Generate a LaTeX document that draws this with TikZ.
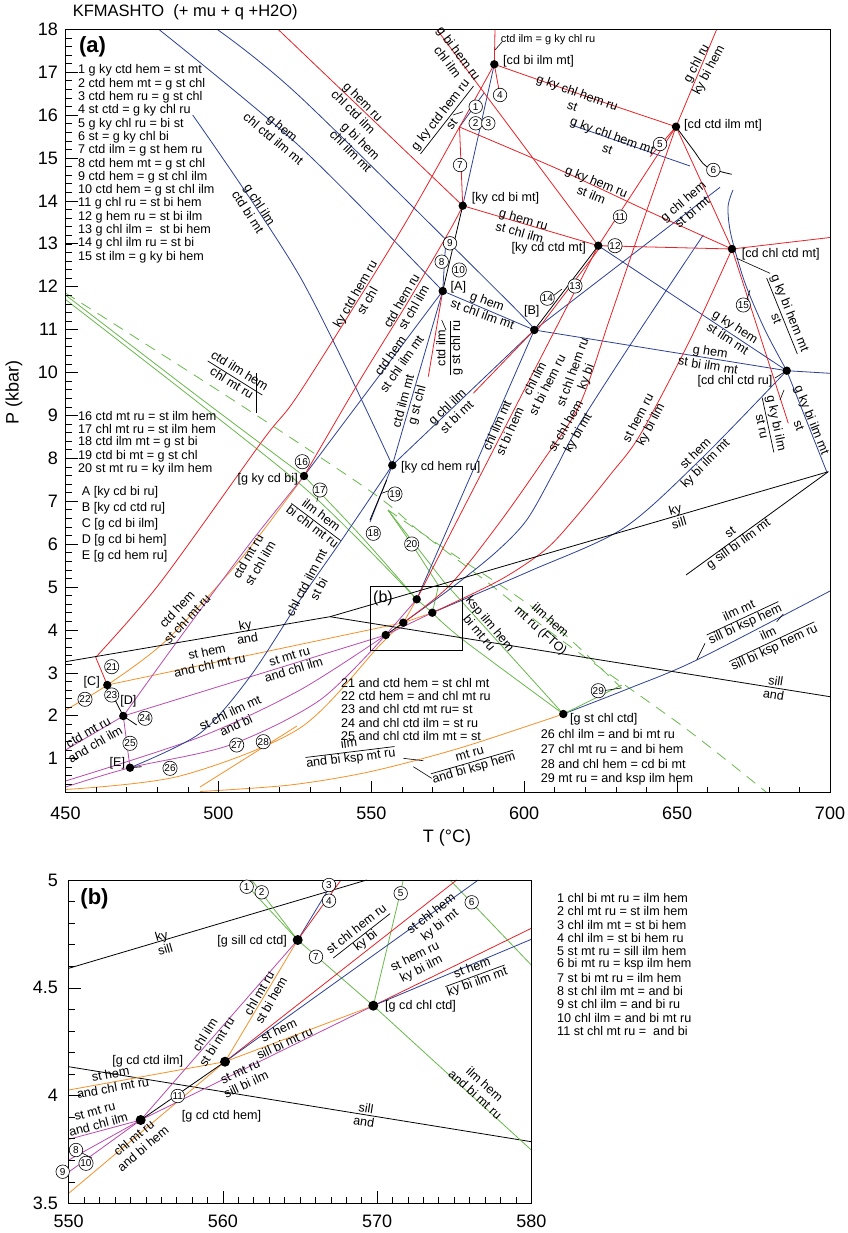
\documentclass[tikz,border=0pt]{standalone}
\usepackage{fontspec}
\setmainfont{Liberation Sans}
\usetikzlibrary{shapes.geometric}
\definecolor{cred}{RGB}{230,35,40}
\definecolor{cblue}{RGB}{45,65,150}
\definecolor{cgreen}{RGB}{105,185,75}
\definecolor{corange}{RGB}{245,145,40}
\definecolor{cpurple}{RGB}{185,75,175}
\newcommand{\frl}[2]{\begin{tabular}{@{}c@{}}#1\\\hline #2\end{tabular}}
\setlength{\arrayrulewidth}{0.7pt}
\tikzset{
 every node/.style={font=\fontsize{12.6}{14}\selectfont, inner sep=0pt},
 ln/.style={line width=0.8pt, line join=round},
 rl/.style={ln, draw=cred}, bl/.style={ln, draw=cblue}, gl/.style={ln, draw=cgreen},
 ol/.style={ln, draw=corange}, pl/.style={ln, draw=cpurple}, kl/.style={ln, draw=black},
 dl/.style={ln, draw=cgreen, dash pattern=on 11pt off 8pt},
 kt/.style={line width=0.6pt},
 two/.style={align=center},
 cn/.style={circle, draw, fill=white, line width=0.6pt, inner sep=0.4pt, minimum size=13.5pt, font=\fontsize{10}{10}\selectfont},
 ax/.style={line width=1pt},
 tk/.style={line width=0.6pt},
 big/.style={font=\fontsize{18}{20}\selectfont},
}
\begin{document}
\begin{tikzpicture}[x=1pt,y=-1pt]
\fill[white] (0,0) rectangle (847,1233);
\useasboundingbox (0,0) rectangle (847,1233);
% ---------- panel (a) coordinates
\coordinate (cbim) at (494.3,64.3);
\coordinate (kcbm) at (462.7,205.7);
\coordinate (kccm) at (598.3,245.7);
\coordinate (ccim) at (676,126.7);
\coordinate (cccm) at (732,249);
\coordinate (A) at (442.7,291);
\coordinate (B) at (534.3,330);
\coordinate (kchr) at (392.3,465.3);
\coordinate (gkcb) at (304,476);
\coordinate (cccr) at (786.7,370.7);
\coordinate (C) at (107.3,685);
\coordinate (D) at (123.3,716);
\coordinate (E) at (130,767.7);
\coordinate (gscc) at (563.3,714);
\coordinate (sgscc) at (416.7,599.3);
\coordinate (sgccc) at (432.3,612.7);
\coordinate (sgcci) at (403.3,622.7);
\coordinate (sgcch) at (385.7,635);
\coordinate (tp) at (330,616.7);
\coordinate (P1) at (459.5,127);
% ---------- green
\draw[gl] plot[smooth] coordinates {(65.5,295) (200,398) (304,476)};
\draw[gl] plot[smooth] coordinates {(304,476) (360,535) (416.7,599.3)};
\draw[gl] plot[smooth] coordinates {(65.5,299.5) (200,404) (300,484) (360,541) (416.7,599.3)};
\draw[gl] (sgscc) -- (sgccc);
\draw[gl] plot[smooth] coordinates {(432.3,612.7) (462,639) (563.3,714)};
\draw[gl] (sgccc) -- (438.5,585.5) -- (411.7,544) -- (388,510);
\draw[gl] (388,510) -- (444.5,582.5) -- (563.3,714);
\draw[dl] plot[smooth] coordinates {(65.5,293) (233,400) (373,493) (420,531.7) (486.7,581.7) (556.7,636.7) (683.3,726.7) (766.7,792.5)};
\draw[dl] plot[smooth] coordinates {(388,510) (446.7,550) (540,613) (621.7,688.3)};
% ---------- orange
\draw[ol] plot[smooth] coordinates {(65.5,710) (107.3,685) (166.7,640) (240,560) (304,476)};
\draw[ol] (C) -- (sgcci);
\draw[ol] plot[smooth] coordinates {(65.5,789.5) (180,776) (300,728) (380,645) (403.3,622.7)};
\draw[ol] (sgscc) -- (sgcci) -- (sgccc);
\draw[ol] plot[smooth] coordinates {(563.3,714) (460,748) (370,771.7) (290,785) (200,791.5)};
\draw[ol] (200,787) -- (297,726);
% ---------- purple
\draw[pl] plot[smooth] coordinates {(123.3,716) (173.3,646.7) (250,543.3) (304,476)};
\draw[pl] (D) -- (65.5,750);
\draw[pl] (D) -- (sgcch);
\draw[pl] plot[smooth] coordinates {(65.5,781) (200,737) (300,690) (385.7,635)};
\draw[pl] plot[smooth] coordinates {(65.5,787) (130,767.7) (230,745) (320,700) (385.7,635)};
\draw[pl] (D) -- (E);
\draw[pl] (sgscc) -- (sgcch) -- (sgccc);
% ---------- blue
\draw[bl] plot[smooth] coordinates {(158.7,29.3) (300,146.7) (442.7,291)};
\draw[bl] plot[smooth] coordinates {(217,29.3) (300,96.7) (506.7,300) (534.3,330)};
\draw[bl] plot[smooth] coordinates {(192.7,115) (300,276.7) (392.3,465.3)};
\draw[bl] (A) -- (B) -- (cccr) -- (830,373.3);
\draw[bl] (A) -- (kchr);
\draw[bl] (A) -- (gkcb);
\draw[bl] (A) -- (446,238);
\draw[bl] (kchr) -- (B);
\draw[bl] (kchr) -- (370,522);
\draw[bl] plot[smooth] coordinates {(130,767.7) (200,733.3) (250,676.7) (300,600) (341.7,540) (392.3,465.3)};
\draw[bl] (P1) -- (484,93);
\draw[bl] (cbim) -- (kcbm);
\draw[bl] (571.7,125) -- (690,166);
\draw[bl] (kccm) -- (cccr);
\draw[bl] (B) -- (720,187.3);
\draw[bl] plot[smooth] coordinates {(733,190) (728,207) (731,235) (745,283) (765,330) (786.7,370.7)};
\draw[bl] (cccr) -- (826.7,471.7);
\draw[bl] (B) -- (sgscc);
\draw[bl] plot[smooth] coordinates {(403.3,622.7) (450,589) (495,553) (526.7,520) (555,470) (580,423.3) (640,330) (703.3,235)};
\draw[bl] plot[smooth] coordinates {(432.3,612.7) (530,571) (623.3,528.3) (700,460) (786.7,370.7)};
\draw[bl] plot[smooth] coordinates {(563.3,714) (630,688) (696.7,660) (830,591)};
\draw[gl] (gscc) -- (621.7,685);
% ---------- red
\draw[rl] plot[smooth] coordinates {(95.7,657.3) (160,583) (263,440) (300,392) (400,232) (459.5,127) (494.3,64.3)};
\draw[rl] plot[smooth] coordinates {(304,476) (360,380) (406.7,304) (450,230) (462.7,205.7)};
\draw[rl] (278,29.3) -- (kcbm);
\draw[rl] (436.7,29.3) -- (kccm);
\draw[rl] (495,29.3) -- (cbim);
\draw[rl] plot[smooth] coordinates {(494.3,64.3) (585,96) (676,126.7)};
\draw[rl] (cbim) -- (499,90);
\draw[rl] plot[smooth] coordinates {(459.5,127) (560,170) (650,212) (732,249)};
\draw[rl] (P1) -- (kcbm);
\draw[rl] (kcbm) -- (kccm) -- (cccm) -- (830,237.5);
\draw[rl] (716.7,29.3) -- (ccim) -- (kccm);
\draw[rl] ([xshift=3pt]kccm) -- ([xshift=3pt]B);
\draw[rl] (B) -- (473.3,393.3);
\draw[rl] (ccim) -- (cccm) -- (788.3,423.3);
\draw[rl] (ccim) -- (650,156.7);
\draw[rl] (kccm) -- (sgscc);
\draw[rl] plot[smooth] coordinates {(403.3,622.7) (450,585) (500,522) (545,458) (580,404) (610,318) (640,230) (676,126.7)};
\draw[rl] plot[smooth] coordinates {(432.3,612.7) (500,580) (545,550) (573.3,520) (610,475) (640,435) (690,340) (732,249)};
\draw[rl] (A) -- (428.3,376.7);
\draw[rl] (95.7,657.3) -- (C);
% ---------- black
\draw[kl] (65.5,661.7) -- (tp) -- (828.3,471.7);
\draw[kl] (tp) -- (830,696.7);
\draw[kl] (686,575) -- (828.3,471.7);
\draw[kl] (C) -- (D);
\draw[kl] (D) -- (136.7,725);
\draw[kl] (E) -- (141.7,766.7);
\draw[kl] (A) -- (kcbm);
\draw[kl] (B) -- (kccm);
\draw[kl] plot[smooth] coordinates {(676,126.7) (693.3,150) (706.7,166.7) (731.7,174.3)};
\draw[kl] (386.7,480) -- (370,520);
\draw[kl] (sgcch) -- (sgcci);
% leaders
\draw[kt] (495,50) -- (502,42);
\draw[kt] (453,115) -- (463,111.7);
\draw[kt] (441.7,320) -- (446,330);
\draw[kt] (736.7,258.3) -- (770,273.3);
\draw[kt] (780,400) -- (784,390);
\draw[kt] (775,378) -- (786,371);
\draw[kt] (316.7,501.7) -- (318,497);
\draw[kt] (256.7,373) -- (256.7,413);
\draw[kt] (403.3,758.3) -- (423.3,760.7);
\draw[kt] (413.3,766.7) -- (431.7,778.3);
\draw[kt] (605,690.5) -- (621,688);
\draw[kt] (553,296) -- (562,289);
\draw[kt] (696.7,660) -- (705,643.3);
\draw[kt] (776.7,621.7) -- (783.3,614);
\draw[kt] (381.7,493.3) -- (388,491);
\draw[kt] (746.7,300) -- (750,290);
% (b) box
\draw[line width=0.8pt] (370,586.7) rectangle (462.3,650.7);
\node[font=\fontsize{16}{18}\selectfont] at (383,598) {(b)};
% dots
\foreach \p in {cbim,kcbm,kccm,ccim,cccm,A,B,kchr,gkcb,cccr,C,D,E,gscc,sgscc,sgccc,sgcci,sgcch}
  \fill (\p) circle (4.2);
% frame and ticks (a)
\draw[ax] (65.5,29.3) rectangle (830,792.5);
\foreach \k in {2,...,90} \draw[tk] (65.5,{29.3+(18-0.2*\k)*42.9}) -- ++(6,0);
\foreach \p in {1,...,18} {\draw[tk] (65.5,{29.3+(18-\p)*42.9}) -- ++(12,0);
  \node[anchor=east, big] at (58,{29.3+(18-\p)*42.9}) {\p};}
\foreach \t in {460,470,...,690} \draw[tk] ({65.5+(\t-450)*3.058},792.5) -- ++(0,-6);
\foreach \t in {450,500,...,700} {\draw[tk] ({65.5+(\t-450)*3.058},792.5) -- ++(0,-12);
  \node[big] at ({65.5+(\t-450)*3.058},813) {\t};}
\node[big] at (447,838) {T (°C)};
\node[big, rotate=90] at (14,392) {P (kbar)};
\node[anchor=west, font=\fontsize{16.5}{18}\selectfont] at (72.7,12.7) {KFMASHTO\ \ (+ mu + q +H2O)};
\node[font=\bfseries\fontsize{22}{24}\selectfont] at (92.5,46.7) {(a)};
% legends (a)
\foreach \t [count=\i] in {1 g ky ctd hem = st mt, 2 ctd hem mt = g st chl, 3 ctd hem ru = g st chl, 4 st ctd = g ky chl ru, 5 g ky chl ru = bi st, 6 st = g ky chl bi, 7 ctd ilm = g st hem ru, 8 ctd hem mt = g st chl, 9 ctd hem = g st chl ilm, 10 ctd hem = g st chl ilm, 11 g chl ru = st bi hem, 12 g hem ru = st bi ilm, 13 g chl ilm =\ \ st bi hem, 14 g chl ilm ru = st bi, 15 st ilm = g ky bi hem}
  \node[anchor=west] at (78,{70.7+13.3*(\i-1)}) {\t};
\foreach \t [count=\i] in {16 ctd mt ru = st ilm hem, 17 chl mt ru = st ilm hem, 18 ctd ilm mt = g st bi, 19 ctd bi mt = g st chl, 20 st mt ru = ky ilm hem}
  \node[anchor=west] at (78,{416+13.3*(\i-1)}) {\t};
\foreach \t [count=\i] in {A [ky cd bi ru], B [ky cd ctd ru], C [g cd bi ilm], D [g cd bi hem], E [g cd hem ru]}
  \node[anchor=west] at (81.7,{492.3+16*(\i-1)}) {\t};
\foreach \t [count=\i] in {21 and ctd hem = st chl mt, 22 ctd hem = and chl mt ru, 23 and chl ctd mt ru= st, 24 and chl ctd ilm = st ru, 25 and chl ctd ilm mt = st}
  \node[anchor=west] at (341,{682.7+13.3*(\i-1)}) {\t};
\foreach \t [count=\i] in {26 chl ilm = and bi mt ru, 27 chl mt ru = and bi hem, 28 and chl hem = cd bi mt, 29 mt ru = and ksp ilm hem}
  \node[anchor=west] at (540.7,{734.3+15*(\i-1)}) {\t};
% point labels (a)
\node[anchor=west] at (503,61) {[cd bi ilm mt]};
\node[anchor=west] at (471.7,198.3) {[ky cd bi mt]};
\node[anchor=east] at (586,248.3) {[ky cd ctd mt]};
\node[anchor=west] at (684,125) {[cd ctd ilm mt]};
\node[anchor=west] at (741.7,254) {[cd chl ctd mt]};
\node[anchor=east] at (772.7,381.7) {[cd chl ctd ru]};
\node at (458.3,287.3) {[A]};
\node at (531.7,311) {[B]};
\node[anchor=west] at (401,467.7) {[ky cd hem ru]};
\node[anchor=east] at (298,479) {[g ky cd bi]};
\node at (91.7,682.7) {[C]};
\node at (128.3,701.7) {[D]};
\node at (117.3,763.3) {[E]};
\node[anchor=west] at (570,719.3) {[g st chl ctd]};
% reaction labels (a)
\node[two,rotate=-40] at (278,133.3) {g hem\\chl ctd ilm mt};
\node[two,rotate=-57] at (254,208.3) {g chl ilm\\ctd bi mt};
\node[two,rotate=-45] at (358.3,106.7) {g hem ru\\chl ctd ilm};
\node[two,rotate=-45] at (355.8,146) {g bi hem\\chl ilm mt};
\node[two,rotate=-53] at (453.3,57.5) {g bi hem ru\\chl ilm};
\node[rotate=52] at (447,120) {\frl{g ky ctd hem ru}{st}};
\node[font=\fontsize{11}{12}\selectfont] at (548,40) {ctd ilm = g ky chl ru};
\node[two,rotate=-20] at (575,99) {g ky chl hem ru\\st};
\node[two,rotate=-20] at (610,142) {g ky chl hem mt\\st};
\node[two,rotate=62] at (703,67) {g chl ru\\ky bi hem};
\node[two,rotate=-22] at (594,188) {g ky hem ru\\st ilm};
\node[two,rotate=-16] at (521.7,225.8) {g hem ru\\st chl ilm};
\node[two,rotate=40] at (687.5,206.7) {g chl hem\\st bi mt};
\node[two,rotate=60] at (361,297.5) {ky ctd hem ru\\st chl};
\node[two,rotate=60] at (407.5,304) {ctd hem ru\\st chl ilm};
\node[two,rotate=55] at (395.8,360) {ctd hem\\st chl ilm mt};
\node[two,rotate=75] at (410.8,403.3) {ctd ilm mt\\g st chl};
\node[rotate=90] at (450,348) {\frl{ctd ilm}{g st chl ru}};
\node[two,rotate=-20] at (485,307.5) {g hem\\st chl ilm mt};
\node[two,rotate=44] at (451.7,411.7) {g chl ilm\\st bi mt};
\node[two,rotate=66] at (503.3,428.3) {chl ilm mt\\st bi hem};
\node[two,rotate=63] at (540.8,381.7) {chl ilm\\st bi hem ru};
\node[two,rotate=70] at (580,375) {st chl hem ru\\ky bi};
\node[two,rotate=60] at (572.5,430) {st chl hem\\ky bi mt};
\node[two,rotate=62] at (645,421.7) {st hem ru\\ky bi ilm};
\node[two,rotate=45] at (700.8,459) {st hem\\ky bi ilm mt};
\node[two,rotate=-33] at (731.7,332.5) {g ky hem\\st ilm mt};
\node[two,rotate=-9] at (709.2,358.3) {g hem\\st bi ilm mt};
\node[rotate=-68] at (782,316) {\frl{g ky bi hem mt}{st}};
\node[rotate=-78] at (768,425) {\frl{g ky bi ilm}{st ru}};
\node[two,rotate=-68] at (805.8,422.5) {g ky bi ilm mt\\st};
\node[two,rotate=16] at (677,516) {ky\\sill};
\node[two,rotate=36] at (735,539) {st\\g sill bi ilm mt};
\node[rotate=25] at (742.5,618.3) {\frl{ilm mt}{sill bi ksp hem}};
\node[rotate=25] at (771.7,641.7) {\frl{ilm}{sill bi ksp hem ru}};
\node[two,rotate=-9] at (774.7,687.7) {sill\\and};
\node[two,rotate=10] at (246.2,631.8) {ky\\and};
\node[two,rotate=12] at (208.3,658.3) {st hem\\and chl mt ru};
\node[two,rotate=17] at (291.7,663.3) {st mt ru\\and chl ilm};
\node[two,rotate=47] at (182,614) {ctd hem\\st chl mt ru};
\node[two,rotate=60] at (254,560) {ctd mt ru\\st chl ilm};
\node[two,rotate=62] at (312.5,585.8) {chl ctd ilm mt\\st bi};
\node[rotate=-37] at (316,522) {\frl{ilm hem}{bi chl mt ru}};
\node[rotate=-32] at (235,378) {\frl{ctd ilm hem}{chl mt ru}};
\node[two,rotate=30] at (91.7,738) {ctd mt ru\\and chl ilm};
\node[two,rotate=25] at (233,719) {st chl ilm mt\\and bi};
\node[two,rotate=-50] at (485,628) {ksp ilm hem\\bi mt ru};
\node[two,rotate=-42] at (545,626) {ilm hem\\mt ru (FTO)};
\node[rotate=7] at (350,752) {\frl{ilm}{and bi ksp mt ru}};
\node[rotate=16] at (472,762) {\frl{mt ru}{and bi ksp hem}};
% numbered circles (a)
\foreach \n/\x/\y in {1/475.7/106.7, 2/475.7/123.3, 3/488.3/123.3, 4/500/95, 5/660/144, 6/713.3/170, 7/460/165, 8/441.7/261.7, 9/450/243.3, 10/459.3/270, 11/620/216.7, 12/615/245.7, 13/575/286, 14/547.3/298.3, 15/743.3/305, 16/302.3/461.7, 17/320/490, 18/373.3/533.3, 19/395/494, 20/411.7/544, 21/111.7/666.7, 22/85/699.3, 23/111.7/695, 24/145/718.3, 25/130/743.3, 26/170/768.3, 27/236.7/745, 28/263.3/741.7, 29/598.3/690.7}
  \node[cn] at (\x,\y) {\n};
% ================= panel (b)
\coordinate (bs) at (297.7,940);
\coordinate (bc) at (373.3,1005.7);
\coordinate (bi) at (225,1061.7);
\coordinate (bh) at (140.7,1120);
\draw[kl] (68.7,968.3) -- (366.7,880);
\draw[kl] (68.7,1066.7) -- (531.3,1141.7);
\draw[gl] (241.7,880) -- (bs);
\draw[gl] (251.7,880) -- (bs);
\draw[gl] (bs) -- (bc) -- (531.3,1150);
\draw[gl] (bc) -- (403.3,880);
\draw[gl] (450,880) -- (531.3,965);
\draw[bl] (bs) -- (334,880);
\draw[rl] (bs) -- (341,880);
\draw[rl] (bi) -- (456.7,880);
\draw[bl] (bi) -- (478.3,880);
\draw[rl] (bc) -- (531.3,928.3);
\draw[bl] (bc) -- (531.3,939.3);
\draw[ol] (bi) -- (bc);
\draw[ol] (bs) -- (bi) -- (68.7,1193.3);
\draw[ol] (bi) -- (68.7,1090);
\draw[pl] (bs) -- (bh) -- (bc);
\draw[pl] (bh) -- (68.7,1139.3);
\draw[pl] (bh) -- (68.7,1160);
\draw[pl] (bh) -- (68.7,1172);
\draw[kl] (bh) -- (bi);
\draw[kt] (82,1153) -- (92,1158);
\foreach \p in {bs,bc,bi,bh} \fill (\p) circle (5);
\draw[ax] (68.7,880) rectangle (531.3,1203.3);
\foreach \t in {551,...,579} \draw[tk] ({68.7+(\t-550)*15.42},1203.3) -- ++(0,-6);
\foreach \t in {550,560,570,580} {\draw[tk] ({68.7+(\t-550)*15.42},1203.3) -- ++(0,-12);
  \node[big] at ({68.7+(\t-550)*15.42},1221.7) {\t};}
\foreach \k in {36,...,49} \draw[tk] (68.7,{880+(5-\k/10)*215.6}) -- ++(6,0);
\foreach \v in {4.5,4} \draw[tk] (68.7,{880+(5-\v)*215.6}) -- ++(12,0);
\foreach \v in {5,4.5,4,3.5} \node[big,anchor=east] at (58,{880+(5-\v)*215.6}) {\v};
\node[font=\bfseries\fontsize{22}{24}\selectfont] at (94.5,899) {(b)};
% labels (b)
\node[anchor=east] at (287,941.7) {[g sill cd ctd]};
\node[anchor=east] at (183.3,1061.7) {[g cd ctd ilm]};
\node[anchor=west] at (181.7,1116.7) {[g cd ctd hem]};
\node[anchor=west] at (385,1006.7) {[g cd chl ctd]};
\node[two,rotate=16] at (163.3,942.5) {ky\\sill};
\node[two,rotate=-9] at (365,1115) {sill\\and};
\node[two,rotate=58] at (210.8,1038.3) {chl ilm\\st bi mt ru};
\node[two,rotate=60] at (265,996.7) {chl mt ru\\st bi hem};
\node[two,rotate=10] at (111.7,1080.8) {st hem\\and chl mt ru};
\node[two,rotate=15] at (96.7,1118.3) {st mt ru\\and chl ilm};
\node[two,rotate=40] at (138.3,1143.3) {chl mt ru\\and bi hem};
\node[two,rotate=25] at (243.3,1078.3) {st mt ru\\sill bi ilm};
\node[two,rotate=25] at (281.7,1036.7) {st hem\\sill bi mt ru};
\node[rotate=38] at (361.7,935.8) {\frl{st chl hem ru}{ky bi}};
\node[two,rotate=38] at (435.8,920) {st chl hem\\ky bi mt};
\node[two,rotate=27] at (418.3,963.3) {st hem ru\\ky bi ilm};
\node[rotate=20] at (475,975.8) {\frl{st hem}{ky bi ilm mt}};
\node[two,rotate=-42] at (480,1089.2) {ilm hem\\and bi mt ru};
\foreach \n/\x/\y in {1/246.7/886.7, 2/261.7/892.3, 3/329/885, 4/329/900.7, 5/400.7/893.3, 6/471.7/902.3, 7/316/956.7, 8/76/1150, 9/62.7/1171.7, 10/86/1163.3, 11/177.7/1096}
  \node[cn] at (\x,\y) {\n};
\foreach \t [count=\i] in {1 chl bi mt ru = ilm hem, 2 chl mt ru = st ilm hem, 3 chl ilm mt = st bi hem, 4 chl ilm = st bi hem ru, 5 st mt ru = sill ilm hem, 6 bi mt ru = ksp ilm hem, 7 st bi mt ru = ilm hem, 8 st chl ilm mt = and bi, 9 st chl ilm = and bi ru, 10 chl ilm = and bi mt ru, 11 st chl mt ru =\ \ and bi}
  \node[anchor=west] at (557,{898+13.3*(\i-1)}) {\t};
\end{tikzpicture}
\end{document}
